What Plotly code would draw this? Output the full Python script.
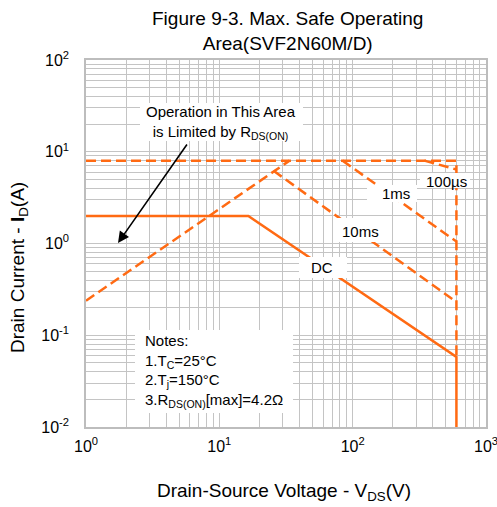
import plotly.graph_objects as go

# ---- data ----
v_dc = [1, 16.5, 600, 600]
i_dc = [2.0, 2.0, 0.058, 0.01]

v_rds = [1, 33.6]
i_rds = [0.238, 8.0]

v_10ms = [25.5, 600]
i_10ms = [6.2, 0.23]

v_1ms = [84, 600]
i_1ms = [8.0, 1.05]

v_100us = [345, 600]
i_100us = [8.0, 6.4]

v_pulse = [1, 600, 600]
i_pulse = [8.0, 8.0, 0.058]

x_ticks = [1, 10, 100, 1000]
x_ticktext = ["10<sup>0</sup>", "10<sup>1</sup>", "10<sup>2</sup>", "10<sup>3</sup>"]
y_ticks = [0.01, 0.1, 1, 10, 100]
y_ticktext = ["10<sup>-2</sup>", "10<sup>-1</sup>", "10<sup>0</sup>", "10<sup>1</sup>", "10<sup>2</sup>"]

ORANGE = "#FF6A13"
GRID = "#C4C4C4"
FONT = "Liberation Sans, Arial, sans-serif"

W, H = 497, 507
PL, PT, PW, PH = 86, 60, 400, 367          # plot area in page pixels
L, T = PL, PT
R, B = W - L - PW, H - T - PH


def px(x):
    return (x - PL) / PW


def py(y):
    return (PT + PH - y) / PH


fig = go.Figure()
dash = "10px,5px"
fig.add_trace(go.Scatter(x=v_pulse, y=i_pulse, mode="lines",
                         line=dict(color=ORANGE, width=2.5, dash=dash)))
fig.add_trace(go.Scatter(x=v_rds, y=i_rds, mode="lines",
                         line=dict(color=ORANGE, width=2.5, dash=dash)))
fig.add_trace(go.Scatter(x=v_10ms, y=i_10ms, mode="lines",
                         line=dict(color=ORANGE, width=2.5, dash=dash)))
fig.add_trace(go.Scatter(x=v_1ms, y=i_1ms, mode="lines",
                         line=dict(color=ORANGE, width=2.5, dash=dash)))
fig.add_trace(go.Scatter(x=v_100us, y=i_100us, mode="lines",
                         line=dict(color=ORANGE, width=2.5, dash=dash)))
fig.add_trace(go.Scatter(x=v_dc, y=i_dc, mode="lines",
                         line=dict(color=ORANGE, width=2.5)))

minor_vals = []
for d in [0.01, 0.1, 1, 10, 100]:
    for k in range(2, 10):
        minor_vals.append(d * k)

axis_common = dict(
    type="log", showgrid=True, gridcolor=GRID, gridwidth=1,
    showline=True, linecolor="#BDBDBD", linewidth=1.5, mirror=True,
    ticks="", zeroline=False, automargin=False, ticklabeloverflow="allow",
    tickfont=dict(family=FONT, size=16, color="black"),
    minor=dict(tickvals=minor_vals, showgrid=True, gridcolor=GRID, gridwidth=1, ticks=""),
)

fig.update_layout(
    width=W, height=H,
    margin=dict(l=L, r=R, t=T, b=B, autoexpand=False),
    paper_bgcolor="white", plot_bgcolor="white",
    showlegend=False, hovermode=False,
    font=dict(family=FONT, color="black"),
    xaxis=dict(range=[0, 3], tickvals=x_ticks, ticktext=x_ticktext,
               ticklabelstandoff=4, **axis_common),
    yaxis=dict(range=[-2, 2], tickvals=y_ticks, ticktext=y_ticktext,
               ticklabelstandoff=12, **axis_common),
)

# white boxes (page pixels)
boxes = [
    (140, 103, 303, 141),   # operation box
    (135, 330, 293, 413),   # notes box
    (333, 218, 380, 242),   # 10ms
    (299, 257, 347, 278),   # DC
    (367, 185, 417, 202),   # 1ms
    (420, 173, 470, 188),   # 100us
]
for x0, y0, x1, y1 in boxes:
    fig.add_shape(type="rect", xref="paper", yref="paper",
                  x0=px(x0), x1=px(x1), y0=py(y1), y1=py(y0),
                  fillcolor="white", line=dict(width=0), layer="above")

ann_font = dict(family=FONT, size=15, color="black")
anns = [
    dict(x=px(221), y=py(122), text="Operation in This Area<br>is Limited by R<sub>DS(ON)</sub>",
         xanchor="center", yanchor="middle", align="center"),
    dict(x=px(143), y=py(371), text="Notes:<br>1.T<sub>C</sub>=25°C<br>2.T<sub>j</sub>=150°C<br>3.R<sub>DS(ON)</sub>[max]=4.2Ω",
         xanchor="left", yanchor="middle", align="left"),
    dict(x=px(360), y=py(231), text="10ms", xanchor="center", yanchor="middle"),
    dict(x=px(322), y=py(267), text="DC", xanchor="center", yanchor="middle"),
    dict(x=px(396), y=py(194), text="1ms", xanchor="center", yanchor="middle"),
    dict(x=px(446), y=py(181), text="100µs", xanchor="center", yanchor="middle"),
]
for a in anns:
    fig.add_annotation(xref="paper", yref="paper", showarrow=False, font=ann_font, **a)

# arrow
fig.add_annotation(xref="paper", yref="paper", x=px(118), y=py(243), text="",
                   showarrow=True, arrowhead=2, arrowsize=1.4, arrowwidth=1.6,
                   arrowcolor="black", ax=70, ay=-100)

# titles
fig.add_annotation(xref="paper", yref="paper", x=px(287), y=py(6),
                   text="Figure 9-3. Max. Safe Operating<br>Area(SVF2N60M/D)",
                   showarrow=False, xanchor="center", yanchor="top", align="center",
                   font=dict(family=FONT, size=19, color="black"))
fig.add_annotation(xref="paper", yref="paper", x=px(284), y=py(492),
                   text="Drain-Source Voltage - V<sub>DS</sub>(V)",
                   showarrow=False, xanchor="center", yanchor="middle",
                   font=dict(family=FONT, size=19, color="black"))
fig.add_annotation(xref="paper", yref="paper", x=px(19), y=py(268),
                   text="Drain Current - <b>I</b><sub>D</sub>(A)", textangle=-90,
                   showarrow=False, xanchor="center", yanchor="middle",
                   font=dict(family=FONT, size=19, color="black"))

fig.write_html("out.html", config={"displayModeBar": False},
               post_script="document.body.style.margin='0';document.body.style.overflow='hidden';")
